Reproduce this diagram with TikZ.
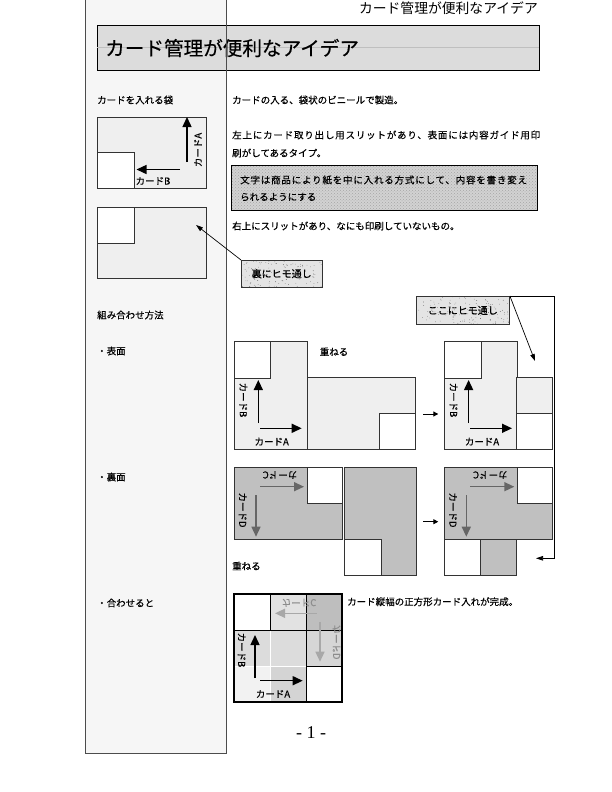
\documentclass[tikz,border=0pt]{standalone}
\usepackage{fontspec}
\setmainfont{Noto Sans CJK JP}[FakeBold=0.4]
\newfontfamily\thinfont{Noto Sans CJK JP}
\newfontfamily\pagefont{Liberation Serif}
\usepackage{xcolor}
\usetikzlibrary{arrows.meta, positioning, patterns, calc}

\definecolor{panelgray}{HTML}{F6F6F6}
\definecolor{titlegray}{HTML}{DCDCDC}
\definecolor{frontgray}{HTML}{EFEFEF}
\definecolor{backgray}{HTML}{C0C0C0}
\definecolor{arrowgray}{HTML}{666666}
\definecolor{fadegray}{HTML}{A8A8A8}
\definecolor{boxgray}{HTML}{D2D2D2}
\definecolor{taggray}{HTML}{E4E4E4}

\newcommand{\bodysize}{\fontsize{9.5}{11}\selectfont}
\newcommand{\wide}{\addfontfeature{LetterSpace=8.5}}

\tikzset{
    txt/.style={anchor=west, inner sep=0pt, font=\bodysize},
    lbl/.style={inner sep=0pt, font=\fontsize{9.5}{10}\selectfont},
    front/.style={draw=black!80, line width=0.7pt, fill=frontgray},
    back/.style={draw=black!80, line width=0.7pt, fill=backgray},
    hole/.style={draw=black!80, line width=0.7pt, fill=white},
    bigarrow/.style={line width=1.4pt, -{Triangle[length=10pt, width=9pt]}},
    smallarrow/.style={line width=1pt, -{Triangle[length=5pt, width=5pt]}},
    link/.style={line width=0.7pt, -{Triangle[length=7pt, width=4.5pt]}},
    tag/.style={draw=black!80, line width=0.6pt, fill=taggray, inner sep=0pt,
        font=\fontsize{10}{11}\selectfont,
        path picture={\foreach \k in {1,...,160}
            \fill[black!75] ($(path picture bounding box.north west)+(rnd*100,rnd*30)$) circle (0.3pt);}}
}

\begin{document}
\begin{tikzpicture}[x=1pt, y=-1pt]
    \useasboundingbox (0,0) rectangle (612,792);
    \fill[white] (0,0) rectangle (612,792);
    \pgfmathsetseed{7}

    % header and side panel
    \node[anchor=east, inner sep=0pt, font=\thinfont\fontsize{13.8}{14}\selectfont] (header) at (538,8) {カード管理が便利なアイデア};
    \fill[panelgray] (85,-5) rectangle (226.5,753);
    \draw[fill=titlegray, line width=0.8pt] (97.3,25) rectangle (539,70);
    \draw[black!25, line width=0.3pt] (97.3,47) -- (539,47);
    \node[anchor=west, inner sep=0pt, font=\fontsize{19.6}{20}\selectfont] (title) at (105,48) {カード管理が便利なアイデア};
    \draw[black!70, line width=0.7pt] (85,-5) rectangle (226.5,753);

    % left column
    \node[txt] (bag) at (97,100) {カードを入れる袋};
    \node[txt] (combo) at (97,315) {組み合わせ方法};
    \node[txt] (omote) at (97,351) {・表面};
    \node[txt] (ura) at (97,477) {・裏面};
    \node[txt] (merged) at (97,603) {・合わせると};

    % right column texts
    \node[txt] (t1) at (232,100) {カードの入る、袋状のビニールで製造。};
    \node[txt] (t2) at (232,135) {\wide 左上にカード取り出し用スリットがあり、表面には内容ガイド用印};
    \node[txt] (t3) at (232,153) {刷がしてあるタイプ。};
    \fill[boxgray] (231.7,165) rectangle (537.3,210.7);
    \fill[pattern=crosshatch dots, pattern color=black!35] (231.7,165) rectangle (537.3,210.7);
    \draw[line width=0.7pt] (231.7,165) rectangle (537.3,210.7);
    \node[txt] (t4) at (240,180) {\wide 文字は商品により紙を中に入れる方式にして、内容を書き変え};
    \node[txt] (t5) at (240,197) {られるようにする};
    \node[txt] (t6) at (232,226) {右上にスリットがあり、なにも印刷していないもの。};

    % the two bags
    \draw[front] (97,117) rectangle (206,188);
    \draw[hole] (97,152) rectangle (134,188);
    \draw[bigarrow] (187,162) -- (187,117);
    \draw[bigarrow] (180,169.5) -- (136.5,169.5);
    \node[lbl, rotate=90] (bagA) at (198,150) {カードA};
    \node[lbl] (bagB) at (153,181) {カードB};
    \draw[front] (97,207) rectangle (206,278);
    \draw[hole] (97,207) rectangle (134,243);
    \coordinate (bagslit) at (196,225);
    \node[tag, minimum width=80.7pt, minimum height=26.7pt, anchor=north west] (uratag) at (241,260) {裏にヒモ通し};
    \draw[link] (uratag.north west) -- (bagslit);

    % front side
    \foreach \dx/\n in {0/l, 210.3/r} {
        \draw[front] (234+\dx,341.7) rectangle (307.3+\dx,449.3);
        \draw[hole] (234+\dx,341.7) rectangle (270.7+\dx,378.3);
        \draw[bigarrow] (258.3+\dx,423) -- (258.3+\dx,380);
        \draw[bigarrow] (260+\dx,428.3) -- (301.7+\dx,428.3);
        \node[lbl, rotate=-90] (fB\n) at (243.3+\dx,400) {カードB};
        \node[lbl] (fA\n) at (271.7+\dx,441.7) {カードA};
    }
    \node[lbl] (kasane1) at (334,351.7) {重ねる};
    \draw[front] (307.7,377.3) rectangle (415,449.3);
    \draw[hole] (379.3,413.3) rectangle (415,449.3);
    \draw[smallarrow] (423.3,414) -- (438.3,414);
    \draw[front] (516.7,377.3) rectangle (552.3,449.3);
    \draw[hole] (516.7,413.3) rectangle (552.3,449.3);

    % back side
    \foreach \dx/\n in {0/l, 210.3/r} {
        \draw[back] (234+\dx,467.7) rectangle (342.3+\dx,539.3);
        \draw[hole] (307.3+\dx,467.7) rectangle (342.3+\dx,503.3);
        \draw[bigarrow, arrowgray] (260+\dx,486.7) -- (304+\dx,486.7);
        \draw[bigarrow, arrowgray] (256+\dx,495) -- (256+\dx,536.7);
        \node[lbl, rotate=180] (bC\n) at (280+\dx,475) {カードC};
        \node[lbl, rotate=-90] (bD\n) at (242.7+\dx,510) {カードD};
    }
    \draw[back] (344.3,467.7) rectangle (416.7,575);
    \draw[hole] (344.3,539.3) rectangle (381.7,575);
    \node[txt] (kasane2) at (232,566) {重ねる};
    \draw[smallarrow] (423.3,521.7) -- (438.3,521.7);
    \draw[hole] (444.3,539.3) rectangle (480.7,575);
    \draw[back] (480.7,539.3) rectangle (516.7,575);

    % string tag and bracket
    \node[tag, minimum width=93.6pt, minimum height=28.3pt, anchor=north west] (kokotag) at (415.7,296) {ここにヒモ通し};
    \coordinate (kokotip) at (535,361);
    \coordinate (bracket) at (554,558.3);
    \coordinate (bracketend) at (536,558.3);
    \draw[link] (kokotag.north east) -- (kokotip);
    \draw[link] (kokotag.north east) -| (bracket) -- (bracketend);

    % combined square
    \foreach \c/\r/\col in {1/0/E2E2E2, 2/0/BEBEBE, 0/1/DCDCDC, 1/1/DCDCDC, 2/1/D6D6D6, 0/2/F2F2F2, 1/2/D4D4D4} {
        \definecolor{cell}{HTML}{\col}
        \fill[cell] (234+36*\c,594+36*\r) rectangle (270+36*\c,630+36*\r);
    }
    \draw[white, line width=0.6pt] (234,666) -- (306,666) (270,630) -- (270,702);
    \draw[line width=0.8pt] (270,594) -- (270,630) (234,630) -- (342,630)
        (306,594) -- (306,702) (306,666) -- (342,666);
    \draw[line width=1.3pt] (234,594) rectangle (342,702);
    \draw[bigarrow, fadegray] (316.7,613.3) -- (275,613.3);
    \draw[bigarrow, fadegray] (320,621.7) -- (320,661.7);
    \node[lbl, text=black!45, yscale=-1] (mC) at (299,602.7) {カードC};
    \node[lbl, text=black!45, xscale=-1, rotate=-90] (mD) at (336.5,642) {カードD};
    \draw[bigarrow] (255,678) -- (255,635);
    \draw[bigarrow] (260,680.7) -- (302.7,680.7);
    \node[lbl, rotate=-90] (mB) at (241.7,650) {カードB};
    \node[lbl] (mA) at (273,694) {カードA};
    \node[txt] (done) at (347,601.7) {カード縦幅の正方形カード入れが完成。};

    % page number
    \node[font=\pagefont\fontsize{18}{18}\selectfont] (page) at (311,733) {- 1 -};
\end{tikzpicture}
\end{document}
